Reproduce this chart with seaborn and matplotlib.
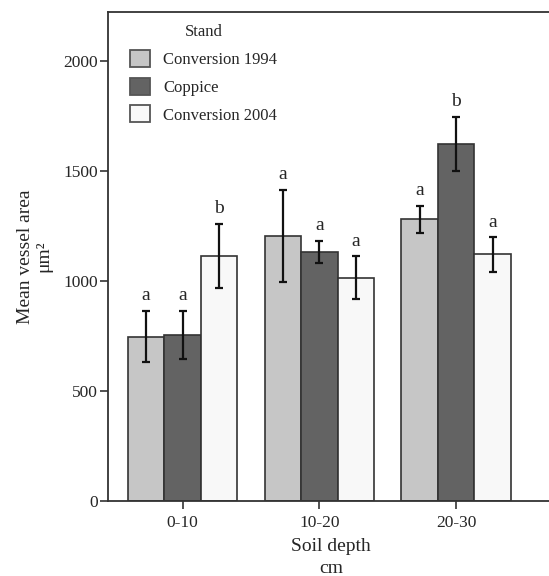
import matplotlib
matplotlib.use("Agg")
import matplotlib.pyplot as plt
import seaborn as sns
import pandas as pd
import numpy as np

depths = ["0-10", "10-20", "20-30"]
stands = ["Conversion 1994", "Coppice", "Conversion 2004"]
means_c1994 = [747, 1205, 1280]
means_coppice = [755, 1133, 1624]
means_c2004 = [1114, 1015, 1121]
err_c1994 = [117, 210, 62]
err_coppice = [110, 50, 122]
err_c2004 = [146, 98, 78]
letters_c1994 = ["a", "a", "a"]
letters_coppice = ["a", "a", "b"]
letters_c2004 = ["b", "a", "a"]
colors = ["#c6c6c6", "#636363", "#f8f8f8"]

rows = []
for s, m, e, l in zip(stands,
                      [means_c1994, means_coppice, means_c2004],
                      [err_c1994, err_coppice, err_c2004],
                      [letters_c1994, letters_coppice, letters_c2004]):
    for d, mv, ev, lv in zip(depths, m, e, l):
        rows.append(dict(depth=d, stand=s, mean=mv, err=ev, letter=lv))
df = pd.DataFrame(rows)

sns.set_style("ticks")
plt.rcParams["font.family"] = ["Liberation Serif", "DejaVu Serif"]

fig = plt.figure(figsize=(5.49, 5.76), dpi=100)
ax = fig.add_axes([108/549, 1-501/576, 1-108/549+0.01, (501-12)/576])

sns.barplot(data=df, x="depth", y="mean", hue="stand", order=depths,
            hue_order=stands, palette=colors, width=0.8, errorbar=None,
            edgecolor="#333333", linewidth=1.2, ax=ax, saturation=1)

# error bars and letters
for i, s in enumerate(stands):
    cont = ax.containers[i]
    sub = df[df.stand == s].set_index("depth").loc[depths]
    for bar, (_, r) in zip(cont.patches, sub.iterrows()):
        xc = bar.get_x() + bar.get_width() / 2
        ax.errorbar(xc, r["mean"], yerr=r["err"], fmt="none",
                    ecolor="#111111", elinewidth=1.6, capsize=3, capthick=1.6)
        ax.text(xc, r["mean"] + r["err"] + 30, r["letter"], ha="center",
                va="bottom", fontsize=14)

ax.set_ylim(0, 2223)
ax.set_xlim(-0.546, 2.72)
ax.set_yticks([0, 500, 1000, 1500, 2000])
ax.tick_params(axis="both", labelsize=12.5, length=6, width=1.2, color="#333333")
ax.tick_params(axis="y", pad=1)
ax.tick_params(axis="x", pad=4)
for sp in ["left", "bottom", "top"]:
    ax.spines[sp].set_linewidth(1.3)
    ax.spines[sp].set_color("#333333")
ax.spines["right"].set_visible(False)
ax.spines["top"].set_visible(True)

ax.set_xlabel("Soil depth\ncm", fontsize=14, labelpad=5, linespacing=1.4)
ax.set_ylabel("Mean vessel area\nμm²", fontsize=14, labelpad=8,
              linespacing=1.15)

leg = ax.legend(title="Stand", loc="upper left", bbox_to_anchor=(0.022, 1.0),
                frameon=False, fontsize=12, title_fontsize=12,
                handlelength=1.2, handleheight=1.2, labelspacing=0.58,
                handletextpad=0.8, borderaxespad=0.32)
for h in leg.legend_handles:
    h.set_edgecolor("#555555")
    h.set_linewidth(1.3)

fig.savefig("out.png", dpi=100)
